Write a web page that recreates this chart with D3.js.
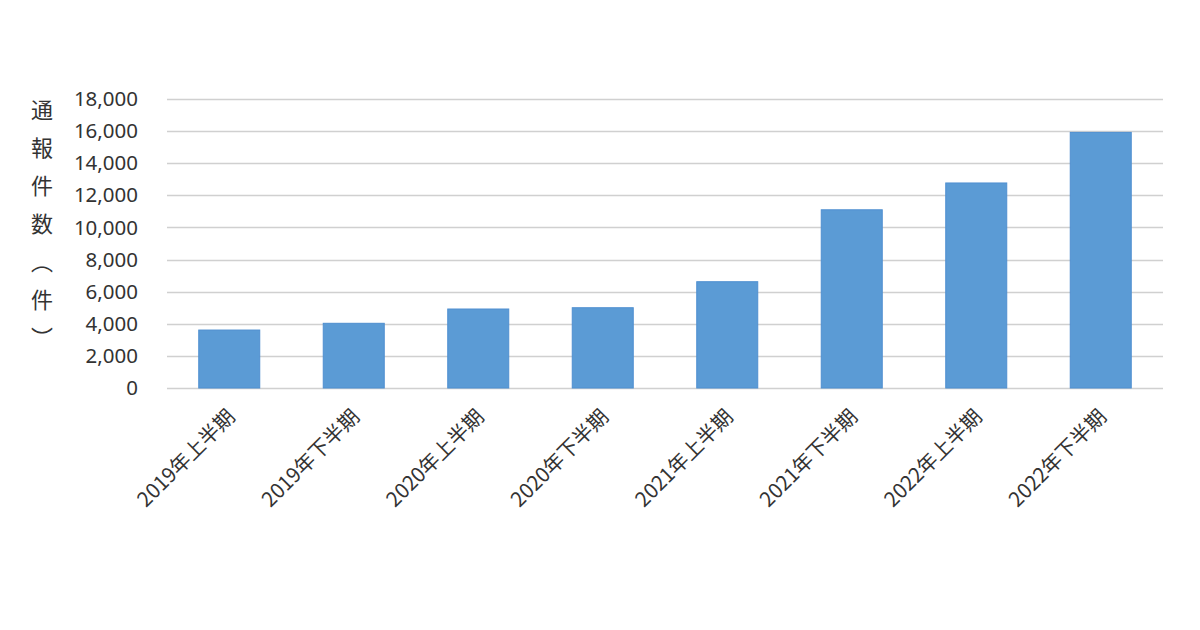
<!DOCTYPE html>
<html>
<head>
<meta charset="utf-8">
<script src="https://cdn.jsdelivr.net/npm/d3@7"></script>
<style>
  body { margin: 0; background: #fff; }
  text { font-family: "Noto Sans CJK JP", "Noto Sans", sans-serif; fill: #333; }
</style>
</head>
<body>
<svg width="1200" height="630"></svg>
<script>
var categories = ["2019年上半期", "2019年下半期", "2020年上半期", "2020年下半期",
                  "2021年上半期", "2021年下半期", "2022年上半期", "2022年下半期"];
var values = [3610, 4030, 4920, 5000, 6620, 11100, 12770, 15920];
var yTicks = [0, 2000, 4000, 6000, 8000, 10000, 12000, 14000, 16000, 18000];
var yTitle = "通報件数（件）";

var svg = d3.select("svg"),
    margin = {top: 99, right: 37, bottom: 242, left: 167},
    width = 1200 - margin.left - margin.right,
    height = 630 - margin.top - margin.bottom;

var g = svg.append("g").attr("transform", "translate(" + margin.left + "," + margin.top + ")");

var x = d3.scaleBand().domain(categories).range([0, width]).paddingInner(0.51).paddingOuter(0.255);
var y = d3.scaleLinear().domain([0, 18000]).range([height, 0]);

// gridlines
g.append("g")
    .selectAll("line")
    .data(yTicks)
    .enter().append("line")
    .attr("x1", 0).attr("x2", width)
    .attr("y1", function (d) { return Math.round(y(d)) + 0.5; })
    .attr("y2", function (d) { return Math.round(y(d)) + 0.5; })
    .attr("stroke", "#d0d0d0")
    .attr("stroke-width", 1.5);

// bars
g.append("g")
    .selectAll("rect")
    .data(values)
    .enter().append("rect")
    .attr("x", function (d, i) { return x(categories[i]); })
    .attr("y", function (d) { return y(d); })
    .attr("width", x.bandwidth())
    .attr("height", function (d) { return height - y(d); })
    .attr("fill", "#5b9bd5")
    .attr("stroke", "#4f8fd0")
    .attr("stroke-width", 1);

// y axis labels
var yAxis = g.append("g")
    .call(d3.axisLeft(y).tickValues(yTicks).tickFormat(d3.format(",")).tickSize(0).tickPadding(29));
yAxis.select(".domain").remove();
yAxis.selectAll("text")
    .style("font-size", "20.5px")
    .style("font-family", "'Noto Sans', sans-serif")
    .attr("fill", "#333");

// x axis labels
var xAxis = g.append("g")
    .attr("transform", "translate(0," + height + ")")
    .call(d3.axisBottom(x).tickSize(0).tickPadding(0));
xAxis.select(".domain").remove();
xAxis.selectAll("text")
    .style("font-size", "20.5px")
    .attr("fill", "#333")
    .attr("text-anchor", "end")
    .attr("dy", null)
    .attr("transform", "translate(7,30) rotate(-45)");

// y title, vertical
svg.append("text")
    .attr("x", 42)
    .attr("y", 99)
    .style("writing-mode", "vertical-rl")
    .style("font-size", "22px")
    .style("letter-spacing", "16px")
    .attr("fill", "#333")
    .text(yTitle);
</script>
</body>
</html>
